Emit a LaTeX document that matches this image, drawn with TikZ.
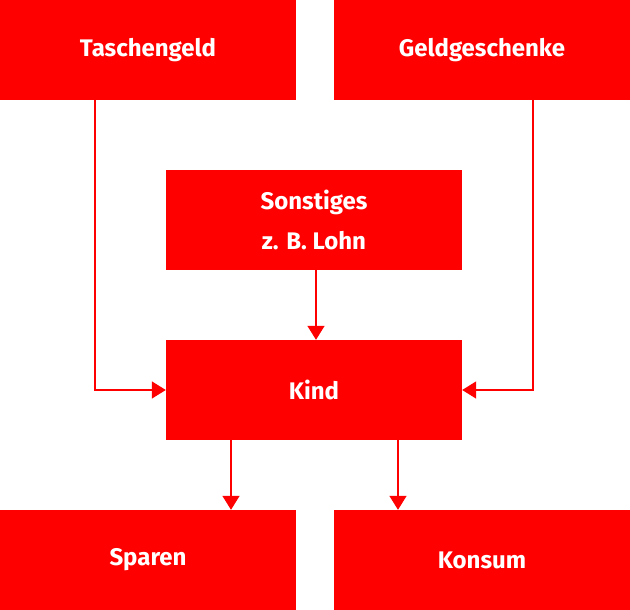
\documentclass[tikz,border=0pt]{standalone}
\usepackage{fontspec}
\setmainfont{Fira Sans}
\usetikzlibrary{arrows.meta}
\definecolor{sred}{RGB}{255,0,0}
\begin{document}
\begin{tikzpicture}[x=1pt,y=-1pt,
  box/.style={fill=sred,minimum width=296pt,minimum height=100pt,inner sep=0pt,text=white,font=\fontsize{24}{40}\selectfont\bfseries,align=center},
  conn/.style={draw=sred,line width=1.5pt,-{Triangle[width=17pt,length=14pt]}}]
\useasboundingbox (0,0) rectangle (630,610);
\node[box] (t) at (148,50) {Taschengeld};
\node[box] (g) at (482,50) {Geldgeschenke};
\node[box] (s) at (314,220) {Sonstiges\\z. B. Lohn};
\node[box] (k) at (314,390) {Kind};
\node[box] (sp) at (148,560) {Sparen};
\node[box] (ko) at (482,560) {Konsum};
\draw[conn] (t.south -| 95,0) |- (k.west);
\draw[conn] (g.south -| 533,0) |- (k.east);
\draw[conn] (s.south -| 316,0) -- (k.north -| 316,0);
\draw[conn] (k.south -| 231,0) -- (sp.north -| 231,0);
\draw[conn] (k.south -| 398,0) -- (ko.north -| 398,0);
\end{tikzpicture}
\end{document}
